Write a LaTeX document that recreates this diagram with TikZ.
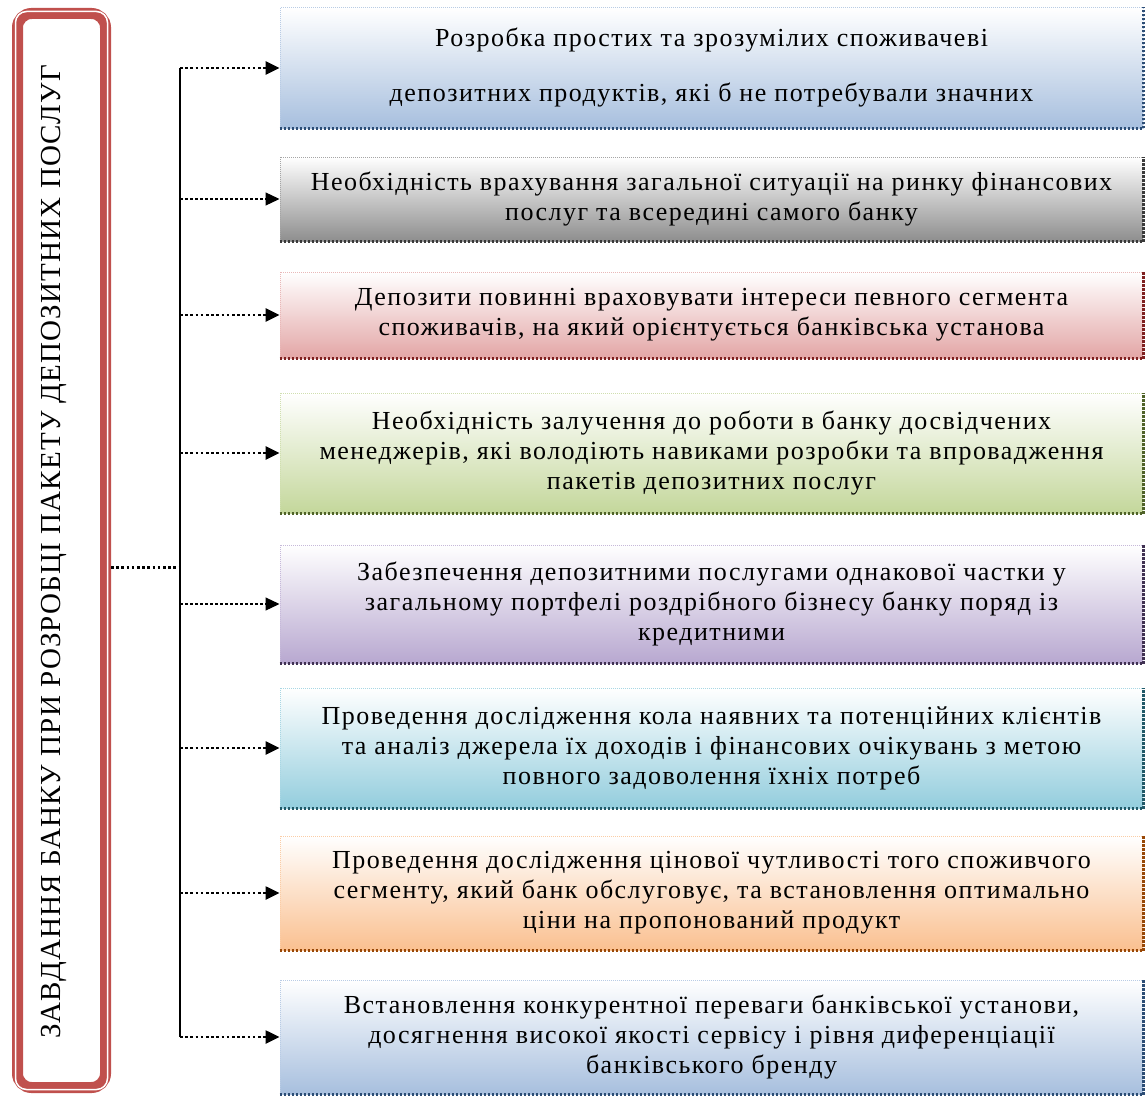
\documentclass[tikz,border=0pt]{standalone}
\usepackage{fontspec}
\setmainfont{Liberation Serif}
\newfontfamily\boxff[LetterSpace=5.7]{Liberation Serif}
\newfontfamily\titleff[LetterSpace=4]{Liberation Serif}
\usetikzlibrary{arrows.meta}
\definecolor{fblue}{HTML}{A7BFDE}\definecolor{dblue}{HTML}{2C4D75}
\definecolor{fgray}{HTML}{8E8E8E}\definecolor{dgray}{HTML}{3A3A3A}
\definecolor{fred}{HTML}{E3A6A6}\definecolor{dred}{HTML}{7F2020}
\definecolor{fgreen}{HTML}{C4D79B}\definecolor{dgreen}{HTML}{4F6228}
\definecolor{fpurple}{HTML}{B8A8D0}\definecolor{dpurple}{HTML}{403152}
\definecolor{fcyan}{HTML}{93CDDD}\definecolor{dcyan}{HTML}{215968}
\definecolor{forange}{HTML}{FAC090}\definecolor{dorange}{HTML}{984807}
\definecolor{lred}{HTML}{C0504D}
\newcommand{\boxfont}{\boxff\fontsize{26pt}{30pt}\selectfont}
\tikzset{
  tbox/.style={minimum width=863pt, inner sep=0pt, align=center, font=\boxfont,
    top color=white, bottom color=#1, middle color=#1!50, draw=#1!80, densely dotted, line width=1pt},
  shade edge/.style={draw=#1, line width=2.5pt, dash pattern=on 2.5pt off 1.5pt},
  dotline/.style={line width=2.6pt, dash pattern=on 2.6pt off 2.6pt, -{Triangle[length=14pt,width=13pt]}},
  dashline/.style={line width=1.2pt, densely dashed, -{Triangle[length=14pt,width=13pt]}},
  trunk/.style={line width=1.5pt},
}
\begin{document}
\begin{tikzpicture}[x=1pt,y=-1pt]
\useasboundingbox (0,0) rectangle (1147,1097);
% left box
\node[draw=lred, line width=11pt, rounded corners=14pt, minimum width=88pt, minimum height=1074pt, inner sep=0pt] (left) at (61.5,550.5) {};
\draw[white, line width=1.5pt, rounded corners=11pt] ([shift={(3.5pt,-3.5pt)}]left.north west) rectangle ([shift={(-3.5pt,3.5pt)}]left.south east);
\node[rotate=90, font=\titleff\fontsize{29pt}{32pt}\selectfont, inner sep=0pt] (title) at (54,552) {ЗАВДАННЯ БАНКУ ПРИ РОЗРОБЦІ ПАКЕТУ ДЕПОЗИТНИХ ПОСЛУГ};
% boxes
\node[tbox=fblue, minimum height=120pt] (b1) at (711.5,68) {Розробка простих та зрозумілих споживачеві\\[25pt]депозитних продуктів, які б не потребували значних};
\node[tbox=fgray, minimum height=84pt] (b2) at (711.5,199) {Необхідність врахування загальної ситуації на ринку фінансових\\послуг та всередині самого банку};
\node[tbox=fred, minimum height=86pt] (b3) at (711.5,315) {Депозити повинні враховувати інтереси певного сегмента\\споживачів, на який орієнтується банківська установа};
\node[tbox=fgreen, minimum height=120pt] (b4) at (711.5,453) {Необхідність залучення до роботи в банку досвідчених\\менеджерів, які володіють навиками розробки та впровадження\\пакетів депозитних послуг};
\node[tbox=fpurple, minimum height=118pt] (b5) at (711.5,604) {Забезпечення депозитними послугами однакової частки у\\загальному портфелі роздрібного бізнесу банку поряд із\\кредитними};
\node[tbox=fcyan, minimum height=120pt] (b6) at (711.5,748) {Проведення дослідження кола наявних та потенційних клієнтів\\та аналіз джерела їх доходів і фінансових очікувань з метою\\повного задоволення їхніх потреб};
\node[tbox=forange, minimum height=114pt] (b7) at (711.5,893) {Проведення дослідження цінової чутливості того споживчого\\сегменту, який банк обслуговує, та встановлення оптимально\\ціни на пропонований продукт};
\node[tbox=fblue, minimum height=114pt] (b8) at (711.5,1037) {Встановлення конкурентної переваги банківської установи,\\досягнення високої якості сервісу і рівня диференціації\\банківського бренду};
% shadow edges
\foreach \b/\c in {b1/dblue,b2/dgray,b3/dred,b4/dgreen,b5/dpurple,b6/dcyan,b7/dorange,b8/dblue}{
  \draw[shade edge=\c] (\b.south west) -- (\b.south east) -- (\b.north east);
}
% connectors
\coordinate (tx) at (180,0);
\coordinate (in) at ([yshift=-17pt]left.east);
\draw[trunk] (b1.west -| tx) -- (b8.west -| tx);
\draw[line width=2.6pt, dash pattern=on 2.6pt off 2.6pt] (in) -- (in -| tx);
\draw[dotline] (b1.west -| tx) -- (b1.west);
\draw[dashline] (b2.west -| tx) -- (b2.west);
\draw[dotline] (b3.west -| tx) -- (b3.west);
\draw[dotline] (b4.west -| tx) -- (b4.west);
\draw[dashline] (b5.west -| tx) -- (b5.west);
\draw[dotline] (b6.west -| tx) -- (b6.west);
\draw[dotline] (b7.west -| tx) -- (b7.west);
\draw[dotline] (b8.west -| tx) -- (b8.west);
\end{tikzpicture}
\end{document}
